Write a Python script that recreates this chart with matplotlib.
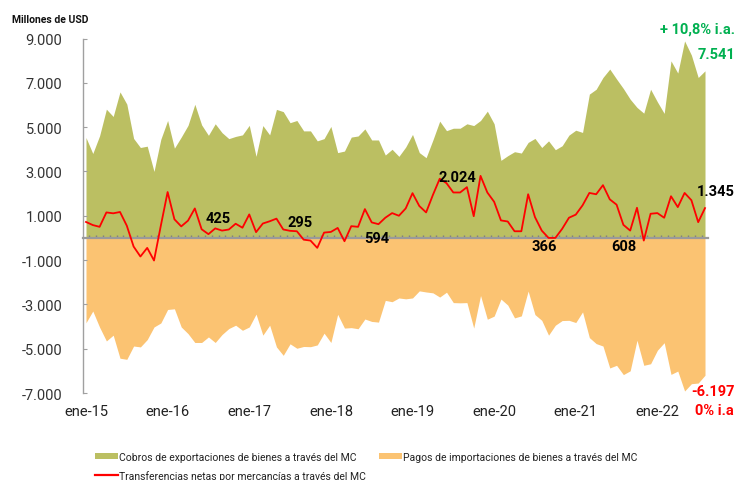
import matplotlib
matplotlib.use('Agg')
import matplotlib.pyplot as plt
import numpy as np
from matplotlib.ticker import FuncFormatter
from matplotlib.lines import Line2D
from matplotlib.patches import Patch

plt.rcParams['font.family'] = ['Roboto', 'DejaVu Sans']

# Monthly values, ene-15 .. ago-22 (millones de USD)
exports = [4530, 3810, 4610, 5810, 5480, 6590, 6040, 4490, 4080, 4140,
           3000, 4450, 5300, 4050, 4550, 5080, 6030, 5100, 4630, 5150,
           4750, 4480, 4580, 4650, 5080, 3680, 5070, 4650, 5800, 5700,
           5200, 5300, 4830, 4830, 4380, 4480, 5030, 3850, 3920, 4550,
           4600, 4920, 4420, 4420, 3740, 4000, 3680, 4100, 4670, 3850,
           3620, 4420, 5270, 4840, 4950, 4950, 5150, 5070, 5300, 5720,
           5150, 3500, 3710, 3890, 3830, 4310, 4490, 4080, 4380, 3980,
           4160, 4640, 4860, 4760, 6490, 6710, 7240, 7620, 7170, 6740,
           6260, 5890, 5630, 6710, 6140, 5620, 7990, 7440, 8890, 8250,
           7240, 7541]

imports = [-3830, -3300, -4030, -4650, -4390, -5430, -5480, -4880, -4920, -4590,
           -4020, -3840, -3230, -3200, -4020, -4320, -4720, -4720, -4470, -4720,
           -4360, -4090, -3940, -4170, -4020, -3440, -4390, -3940, -4920, -5300,
           -4780, -4980, -4900, -4910, -4830, -4300, -4720, -3450, -4070, -4050,
           -4100, -3660, -3770, -3800, -2820, -2880, -2710, -2750, -2710, -2390,
           -2440, -2480, -2670, -2450, -2920, -2930, -2920, -4070, -2600, -3670,
           -3530, -2760, -3030, -3610, -3520, -2400, -3460, -3720, -4390, -3940,
           -3730, -3720, -3820, -3340, -4500, -4770, -4880, -5870, -5750, -6170,
           -6000, -4620, -5750, -5680, -5070, -4730, -6160, -6010, -6910, -6580,
           -6550, -6197]

net = [720, 580, 500, 1150, 1110, 1170, 550, -390, -840, -450,
       -1020, 550, 2070, 840, 520, 780, 1330, 390, 170, 430,
       330, 380, 640, 460, 1060, 260, 650, 750, 870, 380,
       320, 300, -80, -120, -450, 240, 270, 450, -150, 530,
       500, 1300, 700, 620, 910, 1120, 1000, 1330, 2020, 1440,
       1150, 1940, 2670, 2470, 2050, 2050, 2290, 980, 2800, 2050,
       1630, 790, 740, 300, 300, 1970, 940, 330, 0, 0,
       410, 910, 1050, 1470, 2030, 1970, 2380, 1740, 1500, 590,
       330, 1360, -120, 1090, 1120, 910, 1880, 1390, 2030, 1700,
       710, 1345]

year_labels = ['ene-15', 'ene-16', 'ene-17', 'ene-18', 'ene-19', 'ene-20', 'ene-21', 'ene-22']

# text annotations: (text, x index, y value, color, horizontal alignment)
annotations = [
    ('425', 19.4, 900, 'black', 'center'),
    ('295', 31.5, 740, 'black', 'center'),
    ('594', 42.8, 0, 'black', 'center'),
    ('2.024', 54.6, 2770, 'black', 'center'),
    ('366', 67.4, -350, 'black', 'center'),
    ('608', 79.1, -350, 'black', 'center'),
    ('1.345', 92.6, 2130, 'black', 'center'),
    ('7.541', 95.4, 8300, '#00B050', 'right'),
    ('+ 10,8% i.a.', 95.4, 9450, '#00B050', 'right'),
    ('-6.197', 95.4, -6890, '#FF0000', 'right'),
    ('0% i.a', 95.2, -7750, '#FF0000', 'right'),
]

OLIVE = '#BBBF62'
ORANGE = '#FBC372'
RED = '#FF0000'

n = len(exports)
x = np.arange(n)

W, H = 737, 481
fig = plt.figure(figsize=(W / 100, H / 100), dpi=100)
ax = fig.add_axes([83 / W, 1 - 394 / H, 625 / W, 354.5 / H])

ax.fill_between(x, 0, exports, color=OLIVE, lw=0, zorder=1)
ax.fill_between(x, 0, imports, color=ORANGE, lw=0, zorder=1)
ax.plot(x, net, color=RED, lw=1.3, zorder=4)

ax.set_xlim(-0.44, n - 1 + 0.44)
ax.set_ylim(-7000, 9000)

ax.set_yticks(np.arange(-7000, 9001, 2000))
ax.yaxis.set_major_formatter(FuncFormatter(lambda v, p: f"{v:,.0f}".replace(',', '.')))
ax.tick_params(axis='y', direction='in', length=3, color='#A0A0A0', pad=15,
               labelsize=10.5, labelcolor='#333333')

ax.set_xticks(np.arange(0, n, 12)[:len(year_labels)])
ax.set_xticklabels(year_labels)
ax.tick_params(axis='x', length=0, pad=8, labelsize=10.5, labelcolor='#222222')

for s in ['top', 'right', 'bottom']:
    ax.spines[s].set_visible(False)
ax.spines['left'].set_color('#A0A0A0')
ax.spines['left'].set_linewidth(1.0)

# category axis crossing at zero
sec = ax.secondary_xaxis(0, transform=ax.transData)
sec.set_xticks(np.arange(-0.5, n - 1, 1.0))
sec.set_xticklabels([])
sec.tick_params(axis='x', direction='in', length=2.5, width=1.0, color='#808080')
sec.spines['bottom'].set_color('#9A9A9A')
sec.spines['bottom'].set_linewidth(1.6)
sec.set_zorder(3)

for txt, xi, yv, col, ha in annotations:
    ax.text(xi, yv, txt, color=col, fontsize=10.5, fontweight='bold',
            ha=ha, va='center', zorder=5, clip_on=False)

fig.text(12 / W, 1 - 20 / H, 'Millones de USD', fontsize=7.5, fontweight='bold',
         ha='left', va='center', color='#111111')

handles = [Patch(facecolor=OLIVE, edgecolor='none'),
           Line2D([0], [0], color=RED, lw=1.6),
           Patch(facecolor=ORANGE, edgecolor='none')]
labels = ['Cobros de exportaciones de bienes a través del MC',
          'Transferencias netas por mercancías a través del MC',
          'Pagos de importaciones de bienes a través del MC']
fig.legend(handles, labels, ncol=2, loc='upper left', bbox_to_anchor=(95 / W, 1 - 453 / H),
           frameon=False, fontsize=7.5, handlelength=2.2, handleheight=0.55,
           handletextpad=0.15, columnspacing=1.2, labelspacing=0.75,
           borderpad=0, borderaxespad=0, labelcolor='#222222')

fig.savefig('out.png', dpi=100)
